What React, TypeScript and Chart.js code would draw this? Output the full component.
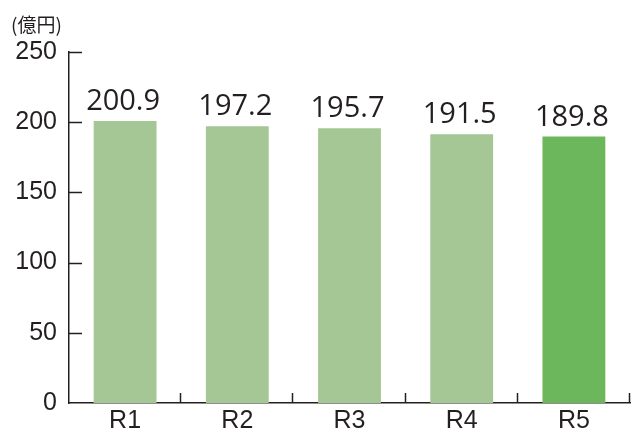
import React, { useEffect, useRef } from "react";
import { Chart, registerables } from "chart.js";

Chart.register(...registerables);

const categories = ["R1", "R2", "R3", "R4", "R5"];
const values = [200.9, 197.2, 195.7, 191.5, 189.8];
const valueLabels = ["200.9", "197.2", "195.7", "191.5", "189.8"];
const barColors = ["#a4c795", "#a4c795", "#a4c795", "#a4c795", "#6cb65c"];
const yTicks = [0, 50, 100, 150, 200, 250];
const unitLabel = "(億円)";

const AXIS_COLOR = "#231f20";

const overlayPlugin = {
  id: "overlay",
  afterDraw(chart: any) {
    const ctx = chart.ctx;
    const xs = chart.scales.x;
    const ys = chart.scales.y;
    const area = chart.chartArea;
    ctx.save();
    ctx.strokeStyle = AXIS_COLOR;
    ctx.lineWidth = 1.5;
    // y-axis inward ticks
    yTicks.forEach((v) => {
      if (v === 0) return;
      const py = Math.round(ys.getPixelForValue(v)) + 0.5;
      ctx.beginPath();
      ctx.moveTo(area.left, py);
      ctx.lineTo(area.left + 13, py);
      ctx.stroke();
    });
    // x-axis upward ticks at category boundaries
    const n = categories.length;
    for (let i = 1; i <= n; i++) {
      const px = Math.round(xs.getPixelForValue(i - 0.5)) - 0.5;
      ctx.beginPath();
      ctx.moveTo(px, area.bottom);
      ctx.lineTo(px, area.bottom - 10);
      ctx.stroke();
    }
    // value labels
    const meta = chart.getDatasetMeta(0);
    ctx.fillStyle = AXIS_COLOR;
    ctx.font = '500 29px "Open Sans"';
    ctx.textAlign = "center";
    ctx.textBaseline = "alphabetic";
    meta.data.forEach((bar: any, i: number) => {
      ctx.fillText(valueLabels[i], bar.x - 2, bar.y - 11);
    });
    // unit label
    ctx.font = '19px "Noto Sans CJK JP"';
    ctx.textAlign = "left";
    ctx.textBaseline = "middle";
    ctx.fillText(unitLabel, 11, 25);
    ctx.restore();
  },
};

export default function App() {
  const ref = useRef<HTMLCanvasElement | null>(null);
  useEffect(() => {
    document.body.style.margin = "0";
    const canvas = ref.current;
    if (!canvas) return;
    const chart = new Chart(canvas, {
      type: "bar",
      data: {
        labels: categories,
        datasets: [
          {
            data: values,
            backgroundColor: barColors,
            borderWidth: 0,
            barPercentage: 0.56,
            categoryPercentage: 1,
          },
        ],
      },
      options: {
        animation: false,
        responsive: false,
        maintainAspectRatio: false,
        layout: { padding: { top: 52, right: 5, left: 0, bottom: 0 } },
        plugins: {
          legend: { display: false },
          tooltip: { enabled: false },
        },
        scales: {
          x: {
            grid: { display: false, drawTicks: false },
            border: { display: true, color: AXIS_COLOR, width: 1.5 },
            ticks: {
              color: AXIS_COLOR,
              font: { family: "Liberation Sans", size: 25 },
              padding: 3,
            },
            afterFit(scale: any) {
              scale.height = 26;
            },
          },
          y: {
            min: 0,
            max: 250,
            grid: { display: false, drawTicks: false },
            border: { display: true, color: AXIS_COLOR, width: 1.5 },
            ticks: {
              stepSize: 50,
              color: AXIS_COLOR,
              font: { family: "Liberation Sans", size: 25 },
              padding: 12,
            },
            afterFit(scale: any) {
              scale.width = 69;
            },
          },
        },
      },
      plugins: [overlayPlugin],
    });
    return () => chart.destroy();
  }, []);
  return (
    <div style={{ width: 635, height: 430 }}>
      <canvas ref={ref} width={635} height={430} />
    </div>
  );
}
